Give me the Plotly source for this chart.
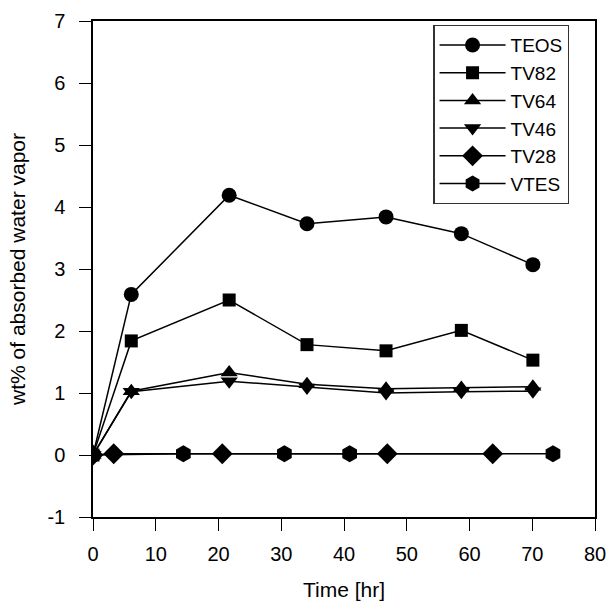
import plotly.graph_objects as go

time_tv = [0, 6.1, 21.7, 34.1, 46.7, 58.7, 70.1]
teos = [0, 2.59, 4.19, 3.73, 3.84, 3.57, 3.07]
tv82 = [0, 1.84, 2.50, 1.78, 1.68, 2.01, 1.53]
tv64 = [0, 1.03, 1.33, 1.14, 1.07, 1.08, 1.10]
tv46 = [0, 1.02, 1.19, 1.09, 1.00, 1.02, 1.03]
time_tv28 = [0, 3.3, 20.6, 46.9, 63.7]
tv28 = [0, 0.02, 0.02, 0.02, 0.02]
time_vtes = [0, 14.4, 30.5, 40.9, 73.3]
vtes = [0, 0.02, 0.02, 0.02, 0.02]

y_ticks = [-1, 0, 1, 2, 3, 4, 5, 6, 7]
y_tick_labels = ["-1", "0", "1", "2", "3", "4", "5", "6", "7"]
x_ticks = [0, 10, 20, 30, 40, 50, 60, 70, 80]

font = "Liberation Sans, Arial, sans-serif"

series = [
    ("TEOS", time_tv, teos, "circle", 15),
    ("TV82", time_tv, tv82, "square", 13),
    ("TV64", time_tv, tv64, "triangle-up", 15),
    ("TV46", time_tv, tv46, "triangle-down", 15),
    ("TV28", time_tv28, tv28, "diamond", 16),
    ("VTES", time_vtes, vtes, "hexagon", 17),
]

fig = go.Figure()
for name, x, y, sym, size in series:
    fig.add_trace(go.Scatter(
        x=x, y=y, name=name, mode="lines+markers",
        line=dict(color="black", width=1.5),
        marker=dict(symbol=sym, size=size, color="black"),
    ))

axis_common = dict(
    showline=True, linecolor="black", linewidth=1.5, mirror=True,
    ticks="outside", ticklen=12, tickwidth=1.2, tickcolor="black",
    showgrid=False, zeroline=False, automargin=False,
    tickfont=dict(family=font, size=20, color="black"),
)

fig.update_xaxes(range=[0, 80], tickvals=x_ticks, ticklabelstandoff=6,
                 title=dict(text="Time [hr]", font=dict(family=font, size=21, color="black"), standoff=19),
                 **axis_common)
fig.update_yaxes(range=[-1, 7], tickvals=y_ticks, ticktext=y_tick_labels, ticklabelstandoff=10,
                 title=dict(text="wt% of absorbed water vapor", font=dict(family=font, size=21, color="black"), standoff=16),
                 **axis_common)

fig.update_layout(
    width=610, height=602,
    margin=dict(l=93, r=15, t=21, b=85),
    paper_bgcolor="white", plot_bgcolor="white",
    font=dict(family=font, size=19, color="black"),
    legend=dict(
        x=0.678, y=0.992, xanchor="left", yanchor="top",
        bgcolor="white", bordercolor="#333333", borderwidth=1.2,
        font=dict(family=font, size=19, color="black"),
        itemwidth=66,
        tracegroupgap=0,
    ),
    showlegend=True,
)

fig.write_html("out.html")
